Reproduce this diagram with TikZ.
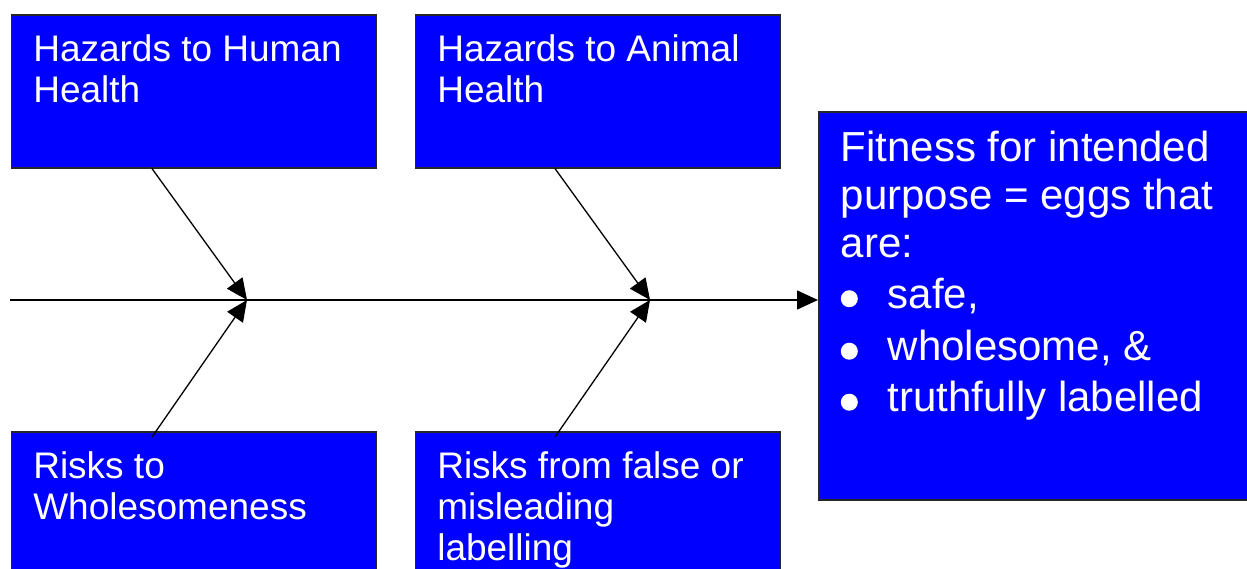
\documentclass[tikz,border=0pt]{standalone}
\usepackage{fontspec}
\setmainfont{Liberation Sans}
\usetikzlibrary{arrows.meta,calc}
\definecolor{boxblue}{RGB}{0,0,255}
\newcommand{\causetext}[2]{\parbox[t][#1][t]{321pt}{\raggedright\fontsize{37}{41}\selectfont #2}}
\newcommand{\bulletitem}{\makebox[47pt][l]{\tikz[baseline=0pt]\fill[white] (9pt,9.5pt) circle[radius=8.5pt];}}

\begin{document}
\begin{tikzpicture}[x=1pt, y=-1pt,
  cause/.style  = {rectangle, draw=black!85, line width=1.6pt, fill=boxblue, text=white, anchor=north west, inner xsep=22pt, inner ysep=20pt},
  effect/.style = {rectangle, draw=black!85, line width=1.6pt, fill=boxblue, text=white, anchor=north west, inner xsep=22pt, inner ysep=19pt},
  bone/.style   = {line width=1.3pt, -{Triangle[length=21pt,width=19pt]}},
  ]
  \useasboundingbox (0,0) rectangle (1247,569);
  \clip (0,0) rectangle (1247,569);
  % causes
  \node[cause] (hh) at (10.5,14)  {\causetext{113pt}{Hazards to Human\\Health}};
  \node[cause] (ah) at (414.5,14) {\causetext{113pt}{Hazards to Animal\\Health}};
  \node[cause] (rw) at (10.5,431) {\causetext{160pt}{Risks to\\Wholesomeness}};
  \node[cause] (rl) at (414.5,431) {\causetext{160pt}{Risks from false or\\misleading\\labelling}};
  % effect
  \node[effect] (fit) at (818,111) {\parbox[t][350pt][t]{392pt}{\raggedright\fontsize{42}{48}\selectfont
    Fitness for intended\\purpose = eggs that\\are:\\[3pt]
    \bulletitem safe,\\[4.5pt]
    \bulletitem wholesome, \&\\[3pt]
    \bulletitem truthfully labelled}};
  % spine
  \coordinate (tail) at (10,300);
  \coordinate (j1) at (247,300);
  \coordinate (j2) at (650,300);
  \draw[bone] (tail) -- (tail -| fit.west);
  \draw[bone] ([xshift=141.5pt]hh.south west) -- (j1);
  \draw[bone] ([xshift=140.5pt]ah.south west) -- (j2);
  \draw[bone] ([xshift=141.5pt,yshift=-6pt]rw.north west) -- (j1);
  \draw[bone] ([xshift=140.5pt,yshift=-6pt]rl.north west) -- (j2);
\end{tikzpicture}
\end{document}
